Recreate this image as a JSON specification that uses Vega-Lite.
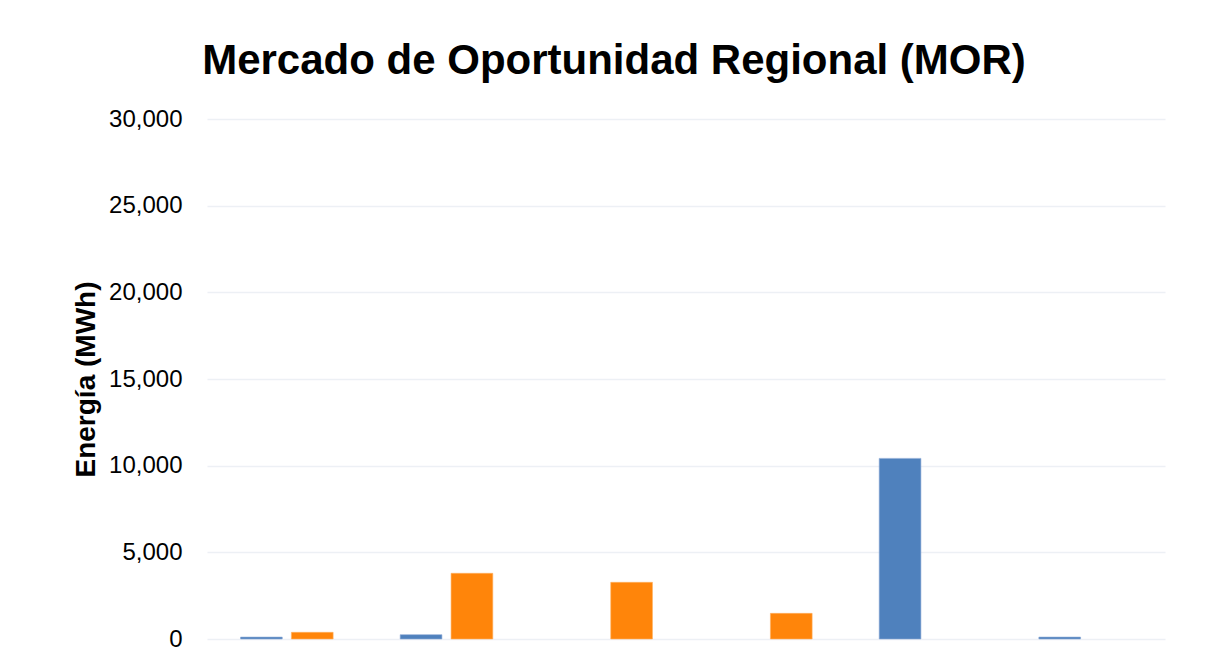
{
  "$schema": "https://vega.github.io/schema/vega-lite/v6.json",
  "autosize": {"type": "none"},
  "width": 958,
  "height": 520,
  "padding": {"left": 207, "top": 119, "right": 50, "bottom": 22},
  "background": "white",
  "title": {
    "text": "Mercado de Oportunidad Regional (MOR)",
    "font": "Liberation Sans",
    "fontSize": 42,
    "fontWeight": "bold",
    "color": "#000000",
    "anchor": "middle",
    "dx": -72,
    "dy": 35,
    "baseline": "alphabetic",
    "offset": 26
  },
  "data": {
    "values": [
      {"grupo": "1", "serie": "Inyección", "energia": 110},
      {"grupo": "1", "serie": "Retiro", "energia": 385},
      {"grupo": "2", "serie": "Inyección", "energia": 250},
      {"grupo": "2", "serie": "Retiro", "energia": 3790},
      {"grupo": "3", "serie": "Retiro", "energia": 3270},
      {"grupo": "4", "serie": "Retiro", "energia": 1480},
      {"grupo": "5", "serie": "Inyección", "energia": 10420},
      {"grupo": "6", "serie": "Inyección", "energia": 110}
    ]
  },
  "mark": {"type": "bar", "strokeWidth": 1, "strokeOpacity": 0.6},
  "encoding": {
    "x": {
      "field": "grupo",
      "type": "nominal",
      "sort": null,
      "scale": {"paddingInner": 0.42, "paddingOuter": 0.21},
      "axis": {"labels": false, "ticks": false, "domain": false, "title": null, "grid": false}
    },
    "xOffset": {
      "field": "serie",
      "type": "nominal",
      "scale": {"domain": ["Inyección", "Retiro"], "paddingInner": 0.18, "paddingOuter": 0}
    },
    "y": {
      "field": "energia",
      "type": "quantitative",
      "scale": {"domain": [0, 30000], "nice": false},
      "axis": {
        "values": [0, 5000, 10000, 15000, 20000, 25000, 30000],
        "format": ",d",
        "title": "Energía (MWh)",
        "titleFont": "Liberation Sans",
        "titleFontSize": 28,
        "titleFontWeight": "bold",
        "titleColor": "#000000",
        "titlePadding": 8,
        "labelFont": "Liberation Sans",
        "labelFontSize": 24,
        "labelColor": "#000000",
        "labelPadding": 25,
        "ticks": false,
        "domain": false,
        "grid": true,
        "gridColor": "#EDF0F5",
        "gridWidth": 1.5
      }
    },
    "color": {
      "field": "serie",
      "type": "nominal",
      "scale": {"domain": ["Inyección", "Retiro"], "range": ["#4F81BD", "#FF850A"]},
      "legend": null
    },
    "stroke": {
      "field": "serie",
      "type": "nominal",
      "scale": {"domain": ["Inyección", "Retiro"], "range": ["#8DAAD6", "#FFB060"]},
      "legend": null
    }
  },
  "config": {"view": {"stroke": null}}
}
